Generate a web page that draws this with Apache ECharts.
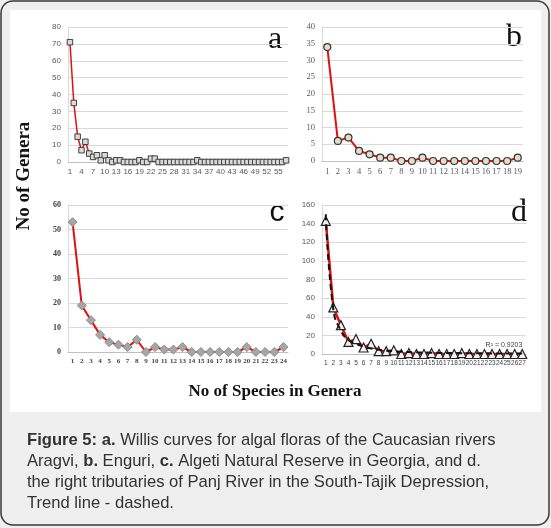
<!DOCTYPE html>
<html>
<head>
<meta charset="utf-8">
<script src="https://cdn.jsdelivr.net/npm/echarts@6/dist/echarts.min.js"></script>
<style>
  html, body { margin: 0; padding: 0; background: #fff; }
  #chart { width: 551px; height: 528px; }
</style>
</head>
<body>
<div id="chart"></div>
<script>
// panel a: Aragvi
const catsA = Array.from({length: 57}, (_, i) => String(i + 1));
const valsA = [71, 35, 15, 7, 12, 5, 3, 4, 1, 4, 1, 0, 1, 1, 0, 0, 0, 0, 1, 0,
  0, 2, 2, 0, 0, 0, 0, 0, 0, 0, 0, 0, 0, 1, 0, 0, 0, 0, 0, 0,
  0, 0, 0, 0, 0, 0, 0, 0, 0, 0, 0, 0, 0, 0, 0, 0, 1];
// panel b: Enguri
const catsB = Array.from({length: 19}, (_, i) => String(i + 1));
const valsB = [34, 6, 7, 3, 2, 1, 1, 0, 0, 1, 0, 0, 0, 0, 0, 0, 0, 0, 1];
// panel c: Algeti
const catsC = Array.from({length: 24}, (_, i) => String(i + 1));
const valsC = [53, 19, 13, 7, 4, 3, 2, 5, 0, 2, 1, 1, 2, 0, 0, 0, 0, 0, 0, 2, 0, 0, 0, 2];
// panel d: Panj tributaries
const catsD = Array.from({length: 27}, (_, i) => String(i + 1));
const valsD = [143, 50, 31, 13, 16, 7, 11, 3, 3, 4, 0, 1, 0, 0, 1, 0, 0, 0, 1, 0, 0, 0, 0, 0, 0, 0, 0];
const trendD = [150, 48, 25, 15, 11, 8, 6, 4.5, 3.6, 3, 2.5, 2.1, 1.8, 1.6, 1.4, 1.2, 1.1, 1,
  0.9, 0.8, 0.75, 0.7, 0.65, 0.6, 0.55, 0.5, 0.5];

const chart = echarts.init(document.getElementById('chart'));

const red = '#e01010';
const gridLine = {show: true, lineStyle: {color: '#d9d9d9', width: 1}};

function xAx(idx, data, interval, font) {
  return {
    type: 'category', gridIndex: idx, data: data, boundaryGap: true,
    axisLine: {lineStyle: {color: '#bfbfbf'}},
    axisTick: {show: false},
    axisLabel: Object.assign({interval: interval, margin: 6, color: '#404040'}, font)
  };
}
function yAx(idx, max, step, font) {
  return {
    type: 'value', gridIndex: idx, min: 0, max: max, interval: step,
    axisLine: {show: true, lineStyle: {color: '#d9d9d9'}},
    axisTick: {show: false},
    splitLine: gridLine,
    axisLabel: Object.assign({margin: 7, color: '#404040'}, font)
  };
}

const sansSmall = {fontFamily: 'Liberation Sans', fontSize: 8, color: '#595959'};
const serifSmall = {fontFamily: 'Liberation Serif', fontSize: 8.5, color: '#595959'};
const serifBold = {fontFamily: 'Liberation Serif', fontSize: 8, fontWeight: 'bold', color: '#404040'};

const option = {
  animation: false,
  backgroundColor: '#efefef',
  grid: [
    {left: 68, top: 27, width: 220, height: 135},
    {left: 322, top: 27, width: 201, height: 134},
    {left: 68, top: 205, width: 220, height: 147},
    {left: 322, top: 205, width: 204, height: 149}
  ],
  xAxis: [
    xAx(0, catsA, 2, sansSmall),
    xAx(1, catsB, 0, serifSmall),
    xAx(2, catsC, 0, Object.assign({}, serifBold, {fontSize: 7})),
    xAx(3, catsD, 0, {fontFamily: 'Liberation Sans', fontSize: 6.5, color: '#404040'})
  ],
  yAxis: [
    yAx(0, 80, 10, sansSmall),
    yAx(1, 40, 5, serifSmall),
    yAx(2, 60, 10, serifBold),
    yAx(3, 160, 20, sansSmall)
  ],
  series: [
    {
      type: 'line', xAxisIndex: 0, yAxisIndex: 0, data: valsA, showAllSymbol: true,
      lineStyle: {color: red, width: 1.5}, symbol: 'rect', symbolSize: 5.5,
      itemStyle: {color: '#d9d9d9', borderColor: '#404040', borderWidth: 1}
    },
    {
      type: 'line', xAxisIndex: 1, yAxisIndex: 1, data: valsB, showAllSymbol: true,
      lineStyle: {color: red, width: 2}, symbol: 'circle', symbolSize: 7,
      itemStyle: {color: '#e6dcc6', borderColor: '#333', borderWidth: 1.2}
    },
    {
      type: 'line', xAxisIndex: 2, yAxisIndex: 2, data: valsC, showAllSymbol: true,
      lineStyle: {color: red, width: 2}, symbol: 'diamond', symbolSize: 9,
      itemStyle: {color: '#a6a6a6', borderColor: '#8c8c8c', borderWidth: 1}
    },
    {
      type: 'line', xAxisIndex: 3, yAxisIndex: 3, data: valsD, showAllSymbol: true,
      lineStyle: {color: red, width: 2.5}, symbol: 'triangle', symbolSize: 9,
      itemStyle: {color: '#f2f2f2', borderColor: '#222', borderWidth: 1.2}, z: 3
    },
    {
      type: 'line', xAxisIndex: 3, yAxisIndex: 3, data: trendD, smooth: true,
      lineStyle: {color: '#111', width: 2, type: [6, 4]}, symbol: 'none', z: 4
    }
  ],
  graphic: [
    // white figure area
    {type: 'rect', z: -10, shape: {x: 10, y: 10, width: 531, height: 402}, style: {fill: '#fff'}},
    // outer rounded frame
    {type: 'rect', z: 100, shape: {x: 1, y: 1, width: 548, height: 524, r: 12},
      style: {fill: 'none', stroke: '#3a3a3a', lineWidth: 1.5}},
    // panel letters
    {type: 'text', x: 275, y: 40, style: {text: 'a', font: '32px "Liberation Serif"', fill: '#111', align: 'center', verticalAlign: 'middle'}},
    {type: 'text', x: 514, y: 38, style: {text: 'b', font: '32px "Liberation Serif"', fill: '#111', align: 'center', verticalAlign: 'middle'}},
    {type: 'text', x: 277, y: 213, style: {text: 'c', font: '30px "Liberation Sans"', fill: '#111', align: 'center', verticalAlign: 'middle'}},
    {type: 'text', x: 519, y: 213, style: {text: 'd', font: '32px "Liberation Serif"', fill: '#111', align: 'center', verticalAlign: 'middle'}},
    // R squared
    {type: 'text', x: 504, y: 345, style: {text: 'R² = 0.9203', font: '7px "Liberation Sans"', fill: '#404040', align: 'center', verticalAlign: 'middle'}},
    // axis titles
    {type: 'text', x: 24, y: 176, rotation: Math.PI / 2,
      style: {text: 'No of Genera', font: 'bold 19px "Liberation Serif"', fill: '#111', align: 'center', verticalAlign: 'middle'}},
    {type: 'text', x: 275, y: 392,
      style: {text: 'No of Species in Genera', font: 'bold 17px "Liberation Serif"', fill: '#111', align: 'center', verticalAlign: 'middle'}},
    // caption
    {type: 'text', x: 27, y: 430, style: {
      text: '{b|Figure 5: a.} Willis curves for algal floras of the Caucasian rivers\n' +
            'Aragvi, {b|b.} Enguri, {b|c.} Algeti Natural Reserve in Georgia, and d.\n' +
            'the right tributaries of Panj River in the South-Tajik Depression,\n' +
            'Trend line - dashed.',
      font: '16.6px "Liberation Sans"', fill: '#333', lineHeight: 21,
      rich: {b: {fontWeight: 'bold', fontSize: 16.6, fontFamily: 'Liberation Sans', fill: '#333', lineHeight: 21}}
    }}
  ]
};

chart.setOption(option);
</script>
</body>
</html>
